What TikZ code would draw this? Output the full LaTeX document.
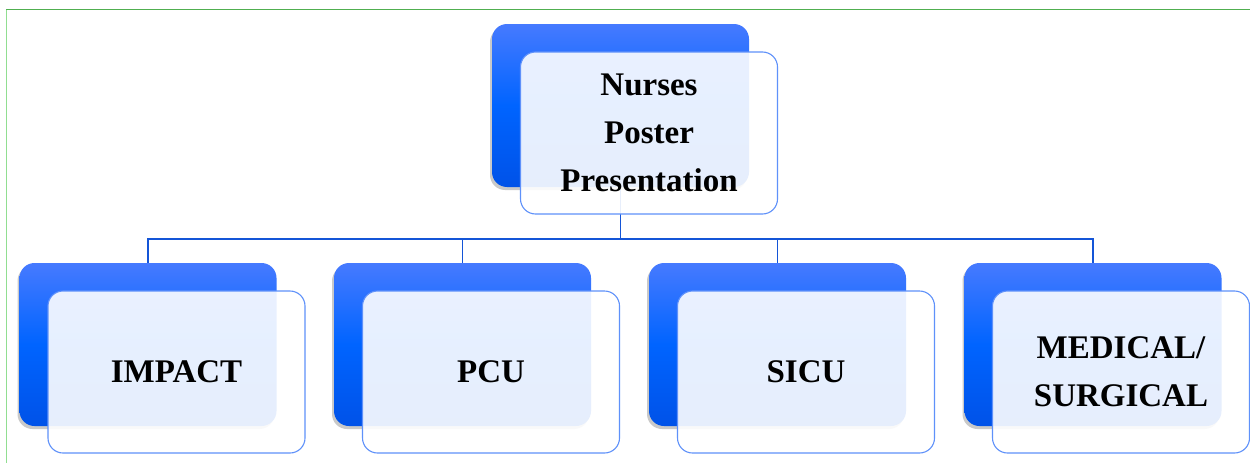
\documentclass[tikz,border=0pt]{standalone}
\usepackage{fontspec}
\setmainfont{Liberation Serif}
\newfontfamily\boxfont{Liberation Serif Bold}
\usetikzlibrary{shadows}
\definecolor{backtop}{RGB}{70,122,255}
\definecolor{backmid}{RGB}{0,100,255}
\definecolor{backbot}{RGB}{0,82,232}
\definecolor{frontedge}{RGB}{95,145,250}
\definecolor{linkblue}{RGB}{20,85,215}
\definecolor{frametop}{RGB}{80,175,80}
\definecolor{frameleft}{RGB}{145,222,145}
\tikzset{
  backbox/.style={rectangle, rounded corners=15pt, minimum width=257pt, minimum height=163pt,
    top color=backtop, bottom color=backbot, middle color=backmid, draw=none,
    drop shadow={shadow xshift=-2pt, shadow yshift=-3pt, opacity=0.35, fill=black!60}},
  frontbox/.style={rectangle, rounded corners=15pt, minimum width=257pt, minimum height=162pt,
    fill=white, fill opacity=0.9, text opacity=1, draw=frontedge, line width=1.1pt,
    align=center, font=\boxfont\fontsize{33}{48}\selectfont},
  link/.style={draw=linkblue, line width=1.8pt},
}
\begin{document}
\begin{tikzpicture}[x=1pt,y=-1pt]
\useasboundingbox (0,0) rectangle (1250,463);
\fill[white] (0,0) rectangle (1250,463);
\draw[frametop, line width=1.2pt] (6,9.5) -- (1250,9.5);
\draw[frameleft, line width=1.5pt] (6.5,9.5) -- (6.5,463);
% back boxes
\node[backbox] (tb) at (620.5,105.5) {};
\node[backbox] (b1) at (148,344.5) {};
\node[backbox] (b2) at (462.5,344.5) {};
\node[backbox] (b3) at (777.5,344.5) {};
\node[backbox] (b4) at (1093,344.5) {};
% connectors
\coordinate (bus) at (620.5,239);
\draw[link] (tb.south) -- (bus);
\draw[link] (bus) -| (b1.north);
\draw[link] (bus) -| (b2.north);
\draw[link] (bus) -| (b3.north);
\draw[link] (bus) -| (b4.north);
% front boxes
\node[frontbox] (tf) at (649,133) {Nurses\\Poster\\Presentation};
\node[frontbox] (f1) at (176.5,372) {IMPACT};
\node[frontbox] (f2) at (491,372) {PCU};
\node[frontbox] (f3) at (806,372) {SICU};
\node[frontbox] (f4) at (1121,372) {MEDICAL/\\SURGICAL};
\end{tikzpicture}
\end{document}
